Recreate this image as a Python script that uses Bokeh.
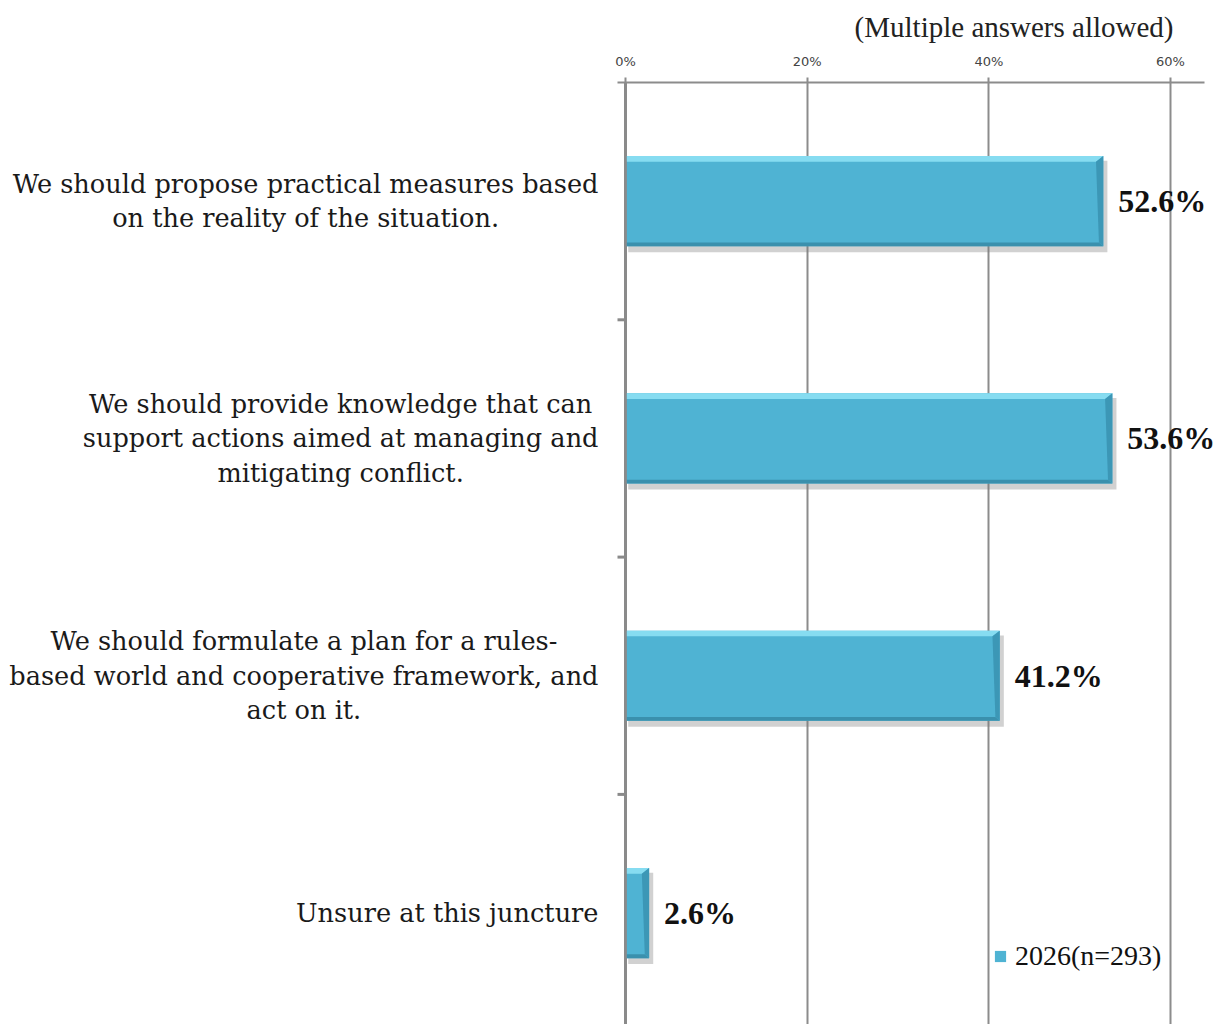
from bokeh.plotting import figure
from bokeh.models import Range1d, FixedTicker, Legend, LegendItem
from bokeh.core.properties import value
from bokeh.embed import file_html
from bokeh.resources import INLINE

categories = [
    "We should propose practical measures based\non the reality of the situation.",
    "We should provide knowledge that can\nsupport actions aimed at managing and\nmitigating conflict.",
    "We should formulate a plan for a rules-\nbased world and cooperative framework, and\nact on it.",
    "Unsure at this juncture",
]
values = [52.6, 53.6, 41.2, 2.6]
value_labels = ["52.6%", "53.6%", "41.2%", "2.6%"]
x_ticks = [0, 20, 40, 60]
x_tick_labels = ["0%", "20%", "40%", "60%"]
legend_label = "2026(n=293)"
note = "(Multiple answers allowed)"

W, H = 1223, 1024
zero_px, top_px = 625, 82
px_per_pct = (1170 - 625) / 60.0
cat_px = 237.3
frame_h = H - top_px
x_start = -zero_px / px_per_pct
x_end = (W - zero_px) / px_per_pct
y_top = -0.5
y_bottom = y_top + frame_h / cat_px

p = figure(width=W, height=H, output_backend="svg", toolbar_location=None,
           x_range=Range1d(x_start, x_end), y_range=Range1d(y_bottom, y_top),
           x_axis_location="above", y_axis_location=None,
           min_border_left=0, min_border_top=top_px,
           min_border_right=0, min_border_bottom=0,
           title=note)
p.outline_line_color = None
p.background_fill_color = "white"
p.border_fill_color = "white"

p.title.align = "right"
p.title.offset = 50
p.title.standoff = 16
p.title.text_font = "Liberation Serif"
p.title.text_font_size = "29px"
p.title.text_font_style = "normal"
p.title.text_color = "#222222"

# x axis
xa = p.xaxis[0]
xa.ticker = FixedTicker(ticks=x_ticks)
xa.major_label_overrides = {t: l for t, l in zip(x_ticks, x_tick_labels)}
xa.bounds = (-0.9, 63.7)
xa.axis_line_color = "#8c8c8c"
xa.axis_line_width = 2
xa.major_tick_line_color = "#8c8c8c"
xa.major_tick_line_width = 2
xa.major_tick_out = 5
xa.major_tick_in = 0
xa.minor_tick_line_color = None
xa.major_label_standoff = 9
xa.major_label_text_font = "DejaVu Sans"
xa.major_label_text_font_size = "13px"
xa.major_label_text_color = "#444444"

p.xgrid.ticker = FixedTicker(ticks=x_ticks[1:])
p.xgrid.grid_line_color = "#8c8c8c"
p.xgrid.grid_line_width = 2
p.xgrid.grid_line_alpha = 1
p.ygrid.grid_line_color = None

# category axis (left): line and boundary ticks
n = len(values)
p.segment(x0=[0], x1=[0], y0=[y_top], y1=[y_bottom], line_color="#8a8a8a", line_width=3)
bounds = [i + 0.5 for i in range(n - 1)]
p.segment(x0=[-8 / px_per_pct] * len(bounds), x1=[0] * len(bounds), y0=bounds, y1=bounds,
          line_color="#8a8a8a", line_width=3)

ys = list(range(n))
h = 0.19
# shadow
p.quad(left=[0.3] * n, right=[v + 0.45 for v in values],
       top=[c - h + 0.02 for c in ys], bottom=[c + h + 0.025 for c in ys],
       fill_color="#7a7a7a", fill_alpha=0.35, line_color=None)
main = p.quad(left=[0.15] * n, right=values,
              top=[c - h for c in ys], bottom=[c + h for c in ys],
              fill_color="#4FB3D3", line_color=None)
bx = 0.8
tb = 0.024
bb = 0.016
p.patches(xs=[[0.15, v, v - bx, 0.15] for v in values],
          ys=[[c - h, c - h, c - h + tb, c - h + tb] for c in ys],
          fill_color="#86DCF1", line_color=None)
p.patches(xs=[[0.15, v, v - bx * 0.6, 0.15] for v in values],
          ys=[[c + h, c + h, c + h - bb, c + h - bb] for c in ys],
          fill_color="#3A90AD", line_color=None)
p.patches(xs=[[v, v, v - bx * 0.6, v - bx] for v in values],
          ys=[[c - h, c + h, c + h - bb, c - h + tb] for c in ys],
          fill_color="#3C97B6", line_color=None)

# value labels
p.text(x=values, y=ys, text=value_labels, x_offset=15,
       text_font=value("Liberation Serif"), text_font_style="bold",
       text_font_size="32px", text_baseline="middle", text_align="left",
       text_color="#111111")

# category labels
lab_x = -(zero_px - 598) / px_per_pct
p.text(x=[lab_x] * n, y=ys, text=categories, anchor="center_right",
       text_align="center", text_baseline="middle",
       text_font=value("DejaVu Serif"), text_font_size="25.6px",
       text_line_height=1.145, text_color="#1a1a1a")

legend = Legend(items=[LegendItem(label=legend_label, renderers=[main])],
                location=(zero_px + 368, 52), padding=0, margin=0, spacing=0,
                glyph_width=14, glyph_height=14, label_height=30, label_standoff=8,
                border_line_color=None, background_fill_alpha=0,
                label_text_font="Liberation Serif", label_text_font_size="28px",
                label_text_color="#111111")
p.add_layout(legend)

open("out.html", "w").write(file_html(p, INLINE))
